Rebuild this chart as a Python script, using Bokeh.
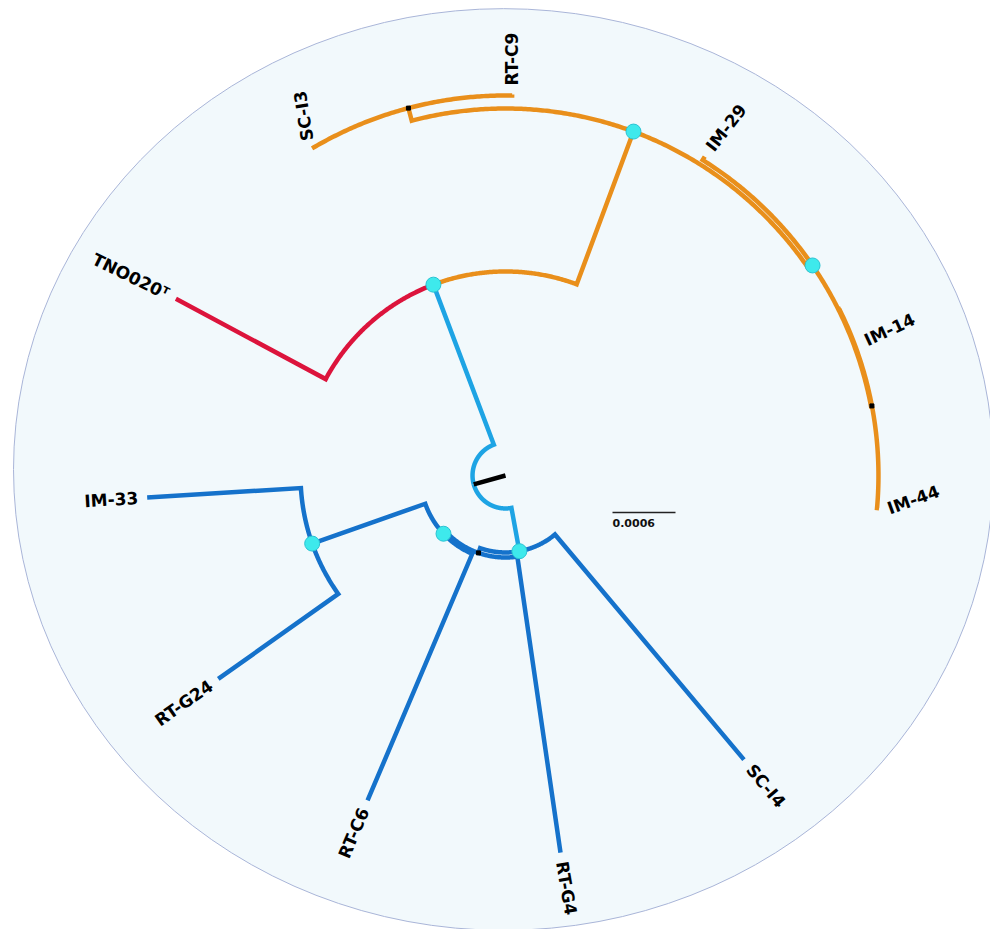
import numpy as np
from bokeh.plotting import figure
from bokeh.models import Range1d
from bokeh.embed import file_html
from bokeh.resources import INLINE
from bokeh.core.properties import value

# ---------------- data ----------------
# leaves: angular position (degrees, counter-clockwise from east)
leaf_names = ["IM-44", "IM-14", "IM-29", "RT-C9", "SC-I3", "TNO020ᵀ",
              "IM-33", "RT-G24", "RT-C6", "RT-G4", "SC-I4"]
leaf_angle = [-5.0, 26.5, 58.0, 89.0, 120.6, 151.8, 183.5, 215.3, 247.0, 278.3, 310.0]
label_angle = [-5.0, 20.5, 58.0, 89.0, 120.6, 151.8, 183.5, 215.3, 247.0, 278.3, 310.0]
label_rotation = [20, 25, 52, 90, 99, -26, 3.5, 35, 67, -80, -50]
label_flipped = [False, False, False, False, False, True, True, True, True, False, False]

# tree topology and node depth (distance from root, x 1e-4 substitutions/site)
node_names = ["root", "A", "B", "TNO020ᵀ", "C", "D", "E", "SC-I3", "RT-C9",
              "IM-29", "F", "IM-14", "IM-44", "X", "SC-I4", "G", "RT-G4",
              "H", "RT-C6", "IM-33", "RT-G24"]
node_parent = [None, "root", "root", "A", "A", "C", "C", "D", "D",
               "E", "E", "F", "F", "B", "B", "X", "X",
               "G", "G", "H", "H"]
node_depth = [3.14, 19.43, 7.33, 35.62, 34.95, 36.19, 35.43, 36.19, 36.29,
              35.81, 35.52, 35.71, 35.71, 7.81, 35.33, 8.10, 36.29,
              19.52, 33.62, 34.19, 33.52]
node_clade = ["root", "stem", "stem", "type", "orange", "orange", "orange", "orange", "orange",
              "orange", "orange", "orange", "orange", "blue", "blue", "blue", "blue",
              "blue", "blue", "blue", "blue"]

dot_nodes = ["A", "C", "E", "B", "G", "H"]
mark_nodes = ["D", "F", "X"]
scale_length = 0.0006
scale_label = "0.0006"

# ---------------- styling ----------------
clade_color = {"stem": "#1ea4e4", "type": "#dc143c", "orange": "#e98f1b", "blue": "#1572cb"}
S = 105000.0            # pixels per substitution/site
W, H = 990, 929
cx_f, cy_f = 505, 475   # tree centre inside the frame (pixels)
px = 1.0 / S

# ---------------- layout ----------------
depth = {n: d * 1e-4 for n, d in zip(node_names, node_depth)}
parent = dict(zip(node_names, node_parent))
clade = dict(zip(node_names, node_clade))
children = {}
for n, pnode in zip(node_names, node_parent):
    if pnode is not None:
        children.setdefault(pnode, []).append(n)
angle = dict(zip(leaf_names, leaf_angle))


def node_angle(n):
    if n not in angle:
        angle[n] = float(np.mean([node_angle(c) for c in children[n]]))
    return angle[n]


node_angle("root")


def pol(r, deg):
    t = np.radians(deg)
    return r * np.cos(t), r * np.sin(t)


xs, ys, cols = [], [], []
for n in node_names:
    pn = parent[n]
    if pn is None:
        continue
    pa, ca = angle[pn], angle[n]
    pr, cr = depth[pn], depth[n]
    k = max(2, int(abs(ca - pa) * 3) + 2)
    th = np.linspace(pa, ca, k)
    ax, ay = pol(pr, th)
    ex, ey = pol(cr, ca)
    xs.append(list(ax) + [ex])
    ys.append(list(ay) + [ey])
    cols.append(clade_color[clade[n]])

p = figure(width=W, height=H, output_backend="svg", toolbar_location=None,
           x_range=Range1d(-cx_f * px, (W - cx_f) * px),
           y_range=Range1d(-(H - cy_f) * px, cy_f * px),
           x_axis_location=None, y_axis_location=None, min_border=0)
p.grid.visible = False
p.outline_line_color = None
p.background_fill_color = "white"
p.border_fill_color = "white"

# background disc
p.ellipse(x=-2 * px, y=6 * px, width=980 * px, height=922 * px,
          fill_color="#f2f9fc", line_color="#a9b5d8", line_width=1)

# branches
p.multi_line(xs=xs, ys=ys, line_color=cols, line_width=4.5,
             line_join="miter", line_cap="butt")

# root stub
rx, ry = pol(depth["root"], angle["root"])
p.segment(x0=[0], y0=[0], x1=[rx], y1=[ry], line_color="black", line_width=4.5)

# node markers
mx, my = zip(*[pol(depth[n], angle[n]) for n in mark_nodes])
p.scatter(x=list(mx), y=list(my), marker="square", size=4, color="black")

dx, dy = zip(*[pol(depth[n], angle[n]) for n in dot_nodes])
p.scatter(x=list(dx), y=list(dy), size=15, fill_color="#3ee9ec",
          line_color="#2ac3d3", line_width=1)

# leaf labels
for flip in (False, True):
    lx, ly, lt, la = [], [], [], []
    for name, ang, rot, f in zip(leaf_names, label_angle, label_rotation, label_flipped):
        if f != flip:
            continue
        x, y = pol(depth[name] + 9 * px, ang)
        lx.append(x); ly.append(y); lt.append(name); la.append(rot)
    p.text(x=lx, y=ly, text=lt, angle=la, angle_units="deg",
           text_align="right" if flip else "left", text_baseline="middle",
           text_font=value("DejaVu Sans"), text_font_style="bold",
           text_font_size="17px", text_color="black")

# scale bar
sb_x, sb_y = 107 * px, -37 * px
p.segment(x0=[sb_x], y0=[sb_y], x1=[sb_x + scale_length], y1=[sb_y],
          line_color="#222222", line_width=1.3)
p.text(x=[sb_x], y=[sb_y - 6 * px], text=[scale_label], text_align="left",
       text_baseline="top", text_font=value("DejaVu Sans"), text_font_style="bold",
       text_font_size="11px", text_color="#111111")

open("out.html", "w").write(file_html(p, INLINE))
